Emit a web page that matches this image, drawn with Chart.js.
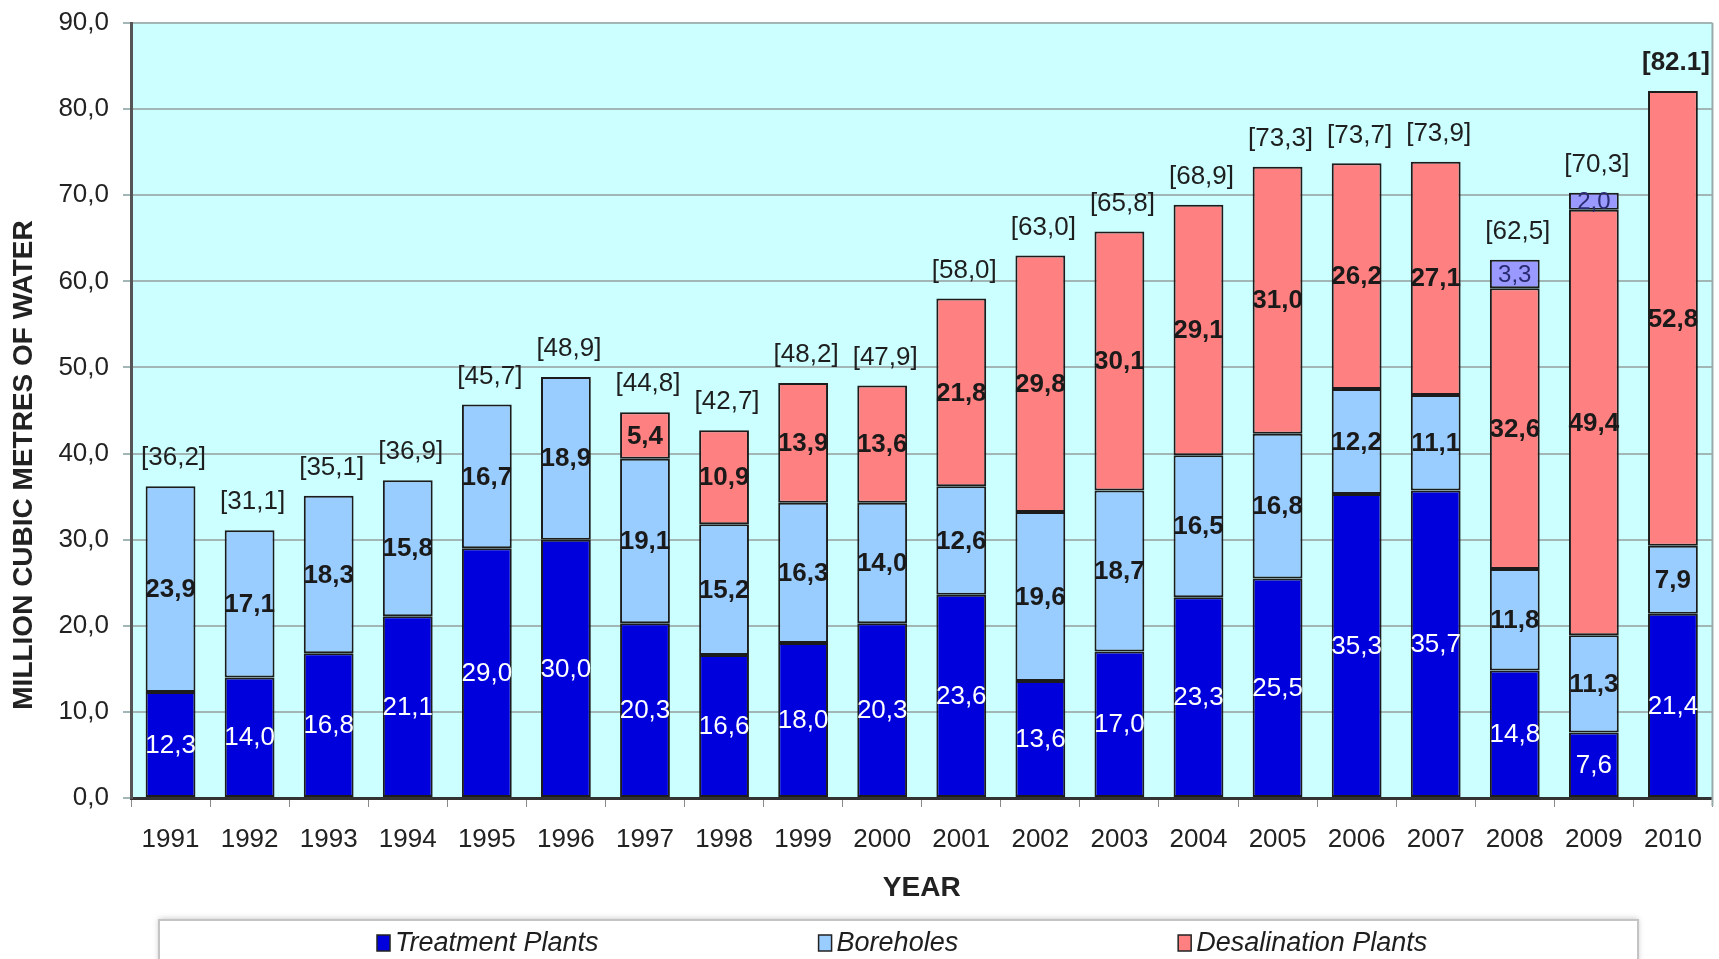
<!DOCTYPE html>
<html>
<head>
<meta charset="utf-8">
<script src="https://cdn.jsdelivr.net/npm/chart.js@4.4.1/dist/chart.umd.min.js"></script>
<style>
    body { margin: 0; background: #ffffff; }
    #wrap { position: relative; width: 1719px; height: 959px; }
</style>
</head>
<body>
<div id="wrap"><canvas id="waterChart"></canvas></div>
<script>
var years = ['1991', '1992', '1993', '1994', '1995', '1996', '1997', '1998', '1999', '2000',
             '2001', '2002', '2003', '2004', '2005', '2006', '2007', '2008', '2009', '2010'];
var treatmentPlants = [12.3, 14.0, 16.8, 21.1, 29.0, 30.0, 20.3, 16.6, 18.0, 20.3,
                       23.6, 13.6, 17.0, 23.3, 25.5, 35.3, 35.7, 14.8, 7.6, 21.4];
var boreholes = [23.9, 17.1, 18.3, 15.8, 16.7, 18.9, 19.1, 15.2, 16.3, 14.0,
                 12.6, 19.6, 18.7, 16.5, 16.8, 12.2, 11.1, 11.8, 11.3, 7.9];
var desalinationPlants = [null, null, null, null, null, null, 5.4, 10.9, 13.9, 13.6,
                          21.8, 29.8, 30.1, 29.1, 31.0, 26.2, 27.1, 32.6, 49.4, 52.8];
var otherSources = [null, null, null, null, null, null, null, null, null, null,
                    null, null, null, null, null, null, null, 3.3, 2.0, null];
var totalLabels = ['[36,2]', '[31,1]', '[35,1]', '[36,9]', '[45,7]', '[48,9]', '[44,8]', '[42,7]', '[48,2]', '[47,9]',
                   '[58,0]', '[63,0]', '[65,8]', '[68,9]', '[73,3]', '[73,7]', '[73,9]', '[62,5]', '[70,3]', '[82.1]'];
var yTicks = [0, 10, 20, 30, 40, 50, 60, 70, 80, 90];
var yTitle = 'MILLION CUBIC METRES OF WATER';

var FONT = '"Liberation Sans", Arial, sans-serif';

function comma(v) {
    return v.toFixed(1).replace('.', ',');
}

// cyan plot background, right frame line and the vertical axis title
var plotBackground = {
    id: 'plotBackground',
    beforeDraw: function(chart) {
        var a = chart.chartArea, ctx = chart.ctx;
        ctx.save();
        ctx.fillStyle = '#ccffff';
        ctx.fillRect(a.left, a.top, a.right - a.left, a.bottom - a.top);
        ctx.restore();
    },
    afterDraw: function(chart) {
        var a = chart.chartArea, ctx = chart.ctx;
        ctx.save();
        ctx.strokeStyle = '#9aa9a9';
        ctx.lineWidth = 2;
        ctx.beginPath();
        ctx.moveTo(a.right, a.top);
        ctx.lineTo(a.right, a.bottom + 8);
        ctx.stroke();

        ctx.translate(24, 465);
        ctx.rotate(-Math.PI / 2);
        ctx.font = 'bold 28px ' + FONT;
        ctx.fillStyle = '#222222';
        ctx.textAlign = 'center';
        ctx.textBaseline = 'middle';
        ctx.fillText(yTitle, 0, 0);
        ctx.restore();
    }
};

// numbers inside each segment and the bracketed totals above
var valueLabels = {
    id: 'valueLabels',
    afterDatasetsDraw: function(chart) {
        var ctx = chart.ctx;
        var yScale = chart.scales.y;
        ctx.save();
        ctx.textAlign = 'center';
        ctx.textBaseline = 'middle';
        chart.data.datasets.forEach(function(ds, i) {
            var meta = chart.getDatasetMeta(i);
            meta.data.forEach(function(bar, j) {
                var v = ds.data[j];
                if (v == null) return;
                ctx.font = ds.labelFont;
                ctx.fillStyle = ds.labelColor;
                ctx.fillText(comma(v), bar.x, (bar.y + bar.base) / 2 + 1);
            });
        });
        var base = chart.getDatasetMeta(0).data;
        totalLabels.forEach(function(t, j) {
            var sum = 0;
            chart.data.datasets.forEach(function(ds) { sum += ds.data[j] || 0; });
            ctx.font = (j === totalLabels.length - 1 ? 'bold ' : '') + '26px ' + FONT;
            ctx.fillStyle = '#1e1e1e';
            ctx.fillText(t, base[j].x + 3, yScale.getPixelForValue(sum) - 28);
        });
        ctx.restore();
    }
};

// boxed legend under the axis title
var boxLegend = {
    id: 'boxLegend',
    afterDraw: function(chart) {
        var ctx = chart.ctx;
        var items = chart.data.datasets.filter(function(ds) { return ds.inLegend; });
        ctx.save();
        ctx.shadowColor = 'rgba(0,0,0,0.25)';
        ctx.shadowBlur = 6;
        ctx.shadowOffsetY = -1;
        ctx.fillStyle = '#ffffff';
        ctx.fillRect(159, 920, 1479, 60);
        ctx.shadowColor = 'transparent';
        ctx.strokeStyle = '#c4c4c4';
        ctx.lineWidth = 2;
        ctx.strokeRect(159, 920, 1479, 60);

        ctx.font = 'italic 27px ' + FONT;
        ctx.textBaseline = 'middle';
        ctx.textAlign = 'left';
        var x = 377, y = 943;
        items.forEach(function(ds) {
            ctx.fillStyle = ds.backgroundColor;
            ctx.fillRect(x, y - 8, 13, 16);
            ctx.strokeStyle = '#222';
            ctx.lineWidth = 1.5;
            ctx.strokeRect(x, y - 8, 13, 16);
            ctx.fillStyle = '#1e1e1e';
            ctx.fillText(ds.label, x + 18, y);
            x += 18 + ctx.measureText(ds.label).width + 220;
        });
        ctx.restore();
    }
};

document.addEventListener('DOMContentLoaded', function() {
    var ctx = document.getElementById('waterChart').getContext('2d');
    var waterChart = new Chart(ctx, {
        type: 'bar',
        data: {
            labels: years,
            datasets: [{
                label: 'Treatment Plants',
                data: treatmentPlants,
                backgroundColor: '#0000dd',
                labelColor: '#ffffff',
                labelFont: '26px ' + FONT,
                inLegend: true
            }, {
                label: 'Boreholes',
                data: boreholes,
                backgroundColor: '#99ccff',
                labelColor: '#1a1a1a',
                labelFont: 'bold 26px ' + FONT,
                inLegend: true
            }, {
                label: 'Desalination Plants',
                data: desalinationPlants,
                backgroundColor: '#ff8080',
                labelColor: '#1a1a1a',
                labelFont: 'bold 26px ' + FONT,
                inLegend: true
            }, {
                label: 'Other',
                data: otherSources,
                backgroundColor: '#9999ff',
                labelColor: '#2a2a70',
                labelFont: '24px ' + FONT,
                inLegend: false
            }]
        },
        options: {
            responsive: true,
            maintainAspectRatio: false,
            animation: false,
            layout: {
                padding: { left: 0, top: 23, right: 6, bottom: 0 }
            },
            datasets: {
                bar: {
                    borderColor: '#1c1c1c',
                    borderWidth: 2,
                    borderSkipped: false,
                    barPercentage: 0.63,
                    categoryPercentage: 1.0
                }
            },
            scales: {
                x: {
                    stacked: true,
                    afterFit: function(scale) { scale.height = 161; },
                    grid: {
                        offset: true,
                        drawOnChartArea: false,
                        drawTicks: true,
                        tickLength: 9,
                        color: '#8a8a8a'
                    },
                    border: { display: true, color: '#333333', width: 3 },
                    ticks: {
                        color: '#222222',
                        padding: 17,
                        maxRotation: 0,
                        font: { family: FONT, size: 26 }
                    },
                    title: {
                        display: true,
                        text: 'YEAR',
                        color: '#222222',
                        padding: { top: 0, bottom: 54 },
                        font: { family: FONT, size: 28, weight: 'bold' }
                    }
                },
                y: {
                    stacked: true,
                    min: 0,
                    max: 90,
                    afterFit: function(scale) {
                        scale.width = 131;
                        scale.paddingTop = 0;
                    },
                    afterBuildTicks: function(scale) {
                        scale.ticks = yTicks.map(function(v) { return { value: v }; });
                    },
                    grid: {
                        color: '#a2b6b6',
                        lineWidth: 2,
                        tickLength: 8
                    },
                    border: { display: true, color: '#555555', width: 3 },
                    ticks: {
                        color: '#222222',
                        padding: 14,
                        font: { family: FONT, size: 26 },
                        callback: function(v) { return comma(v); }
                    }
                }
            },
            plugins: {
                legend: { display: false },
                tooltip: { enabled: false }
            }
        },
        plugins: [plotBackground, valueLabels, boxLegend]
    });
});
</script>
</body>
</html>
